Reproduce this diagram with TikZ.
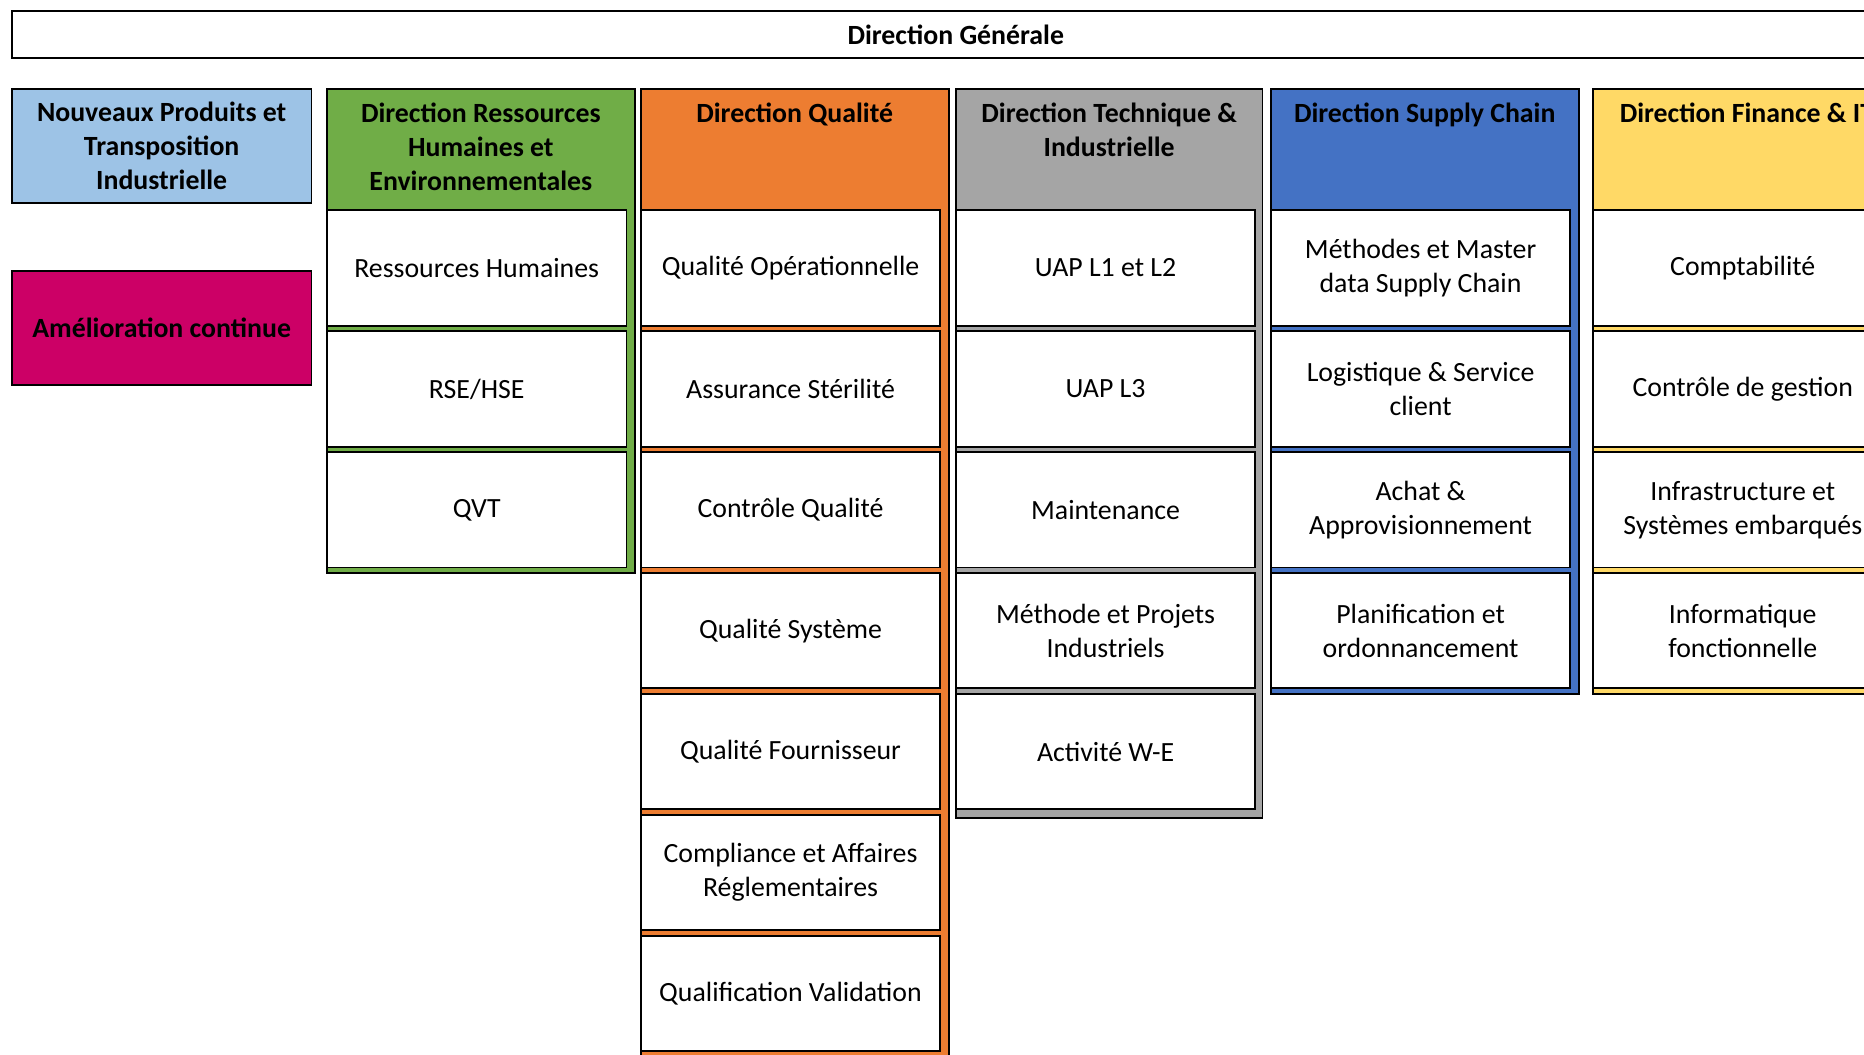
\documentclass[tikz,border=0pt]{standalone}
\usepackage{fontspec}
\setmainfont{Carlito}
\definecolor{cLBlue}{HTML}{9DC3E6}
\definecolor{cMag}{HTML}{CC0066}
\definecolor{cGreen}{HTML}{70AD47}
\definecolor{cOrange}{HTML}{ED7D31}
\definecolor{cGray}{HTML}{A5A5A5}
\definecolor{cBlue}{HTML}{4472C4}
\definecolor{cYellow}{HTML}{FFD966}
\tikzset{
  txt/.style={font=\fontsize{11.7pt}{14.25pt}\selectfont, align=center, inner sep=0pt},
  hdr/.style={txt, font=\fontsize{11.7pt}{14.25pt}\selectfont\bfseries, anchor=north},
  sub/.style={txt, draw=black, fill=white, line width=0.8pt, minimum width=126pt,
              minimum height=48.5pt, anchor=north west, outer sep=0pt},
  colbox/.style={draw=black, line width=0.8pt},
  topbox/.style={txt, font=\fontsize{11.7pt}{14.25pt}\selectfont\bfseries, draw=black, line width=0.8pt,
              minimum height=20pt, minimum width=794pt, anchor=north west, outer sep=0pt},
  sidebox/.style={txt, font=\fontsize{11.7pt}{14.25pt}\selectfont\bfseries, draw=black, line width=0.8pt,
              minimum width=126pt, minimum height=48pt, anchor=north west, outer sep=0pt}
}
\begin{document}
\begin{tikzpicture}[x=0.5pt,y=-0.5pt]
\useasboundingbox (0,0) rectangle (1568,887);
\clip (0,0) rectangle (1568,887);
\fill[white] (0,0) rectangle (1568,887);

% Top box
\node[topbox] (dg) at (10,9) {Direction Générale};

% Left boxes
\node[sidebox, fill=cLBlue] (np) at (10,75) {Nouveaux Produits et\\Transposition\\Industrielle};
\node[sidebox, fill=cMag] (ac) at (10,228) {Amélioration continue};

% Columns
\draw[colbox, fill=cGreen]  (275,75) rectangle (534,482);
\draw[colbox, fill=cOrange] (539,75) rectangle (798,892);
\draw[colbox, fill=cGray]   (804,75) rectangle (1062,688);
\draw[colbox, fill=cBlue]   (1069,75) rectangle (1328,584);
\draw[colbox, fill=cYellow] (1340,75) rectangle (1599,584);

% Headers
\node[hdr] (hg) at (404.5,86.5) {Direction Ressources\\Humaines et\\Environnementales};
\node[hdr] (ho) at (668.5,86.5) {Direction Qualité};
\node[hdr] (ht) at (933,86.5) {Direction Technique \&\\Industrielle};
\node[hdr] (hb) at (1198.5,86.5) {Direction Supply Chain};
\node[hdr] (hy) at (1469.5,86.5) {Direction Finance \& IT};

% Green
\node[sub] (g1) at (275,177)   {Ressources Humaines};
\node[sub] (g2) at (275,278.7) {RSE/HSE};
\node[sub] (g3) at (275,380.4) {QVT};

% Orange
\node[sub] (o1) at (539,177)   {Qualité Opérationnelle};
\node[sub] (o2) at (539,278.7) {Assurance Stérilité};
\node[sub] (o3) at (539,380.4) {Contrôle Qualité};
\node[sub] (o4) at (539,482.1) {Qualité Système};
\node[sub] (o5) at (539,583.8) {Qualité Fournisseur};
\node[sub] (o6) at (539,685.5) {Compliance et Affaires\\Réglementaires};
\node[sub] (o7) at (539,787.2) {Qualification Validation};

% Gray
\node[sub] (t1) at (804,177)   {UAP L1 et L2};
\node[sub] (t2) at (804,278.7) {UAP L3};
\node[sub] (t3) at (804,380.4) {Maintenance};
\node[sub] (t4) at (804,482.1) {Méthode et Projets\\Industriels};
\node[sub] (t5) at (804,583.8) {Activité W-E};

% Blue
\node[sub] (b1) at (1069,177)   {Méthodes et Master\\data Supply Chain};
\node[sub] (b2) at (1069,278.7) {Logistique \& Service\\client};
\node[sub] (b3) at (1069,380.4) {Achat \&\\Approvisionnement};
\node[sub] (b4) at (1069,482.1) {Planification et\\ordonnancement};

% Yellow
\node[sub] (y1) at (1340,177)   {Comptabilité};
\node[sub] (y2) at (1340,278.7) {Contrôle de gestion};
\node[sub] (y3) at (1340,380.4) {Infrastructure et\\Systèmes embarqués};
\node[sub] (y4) at (1340,482.1) {Informatique\\fonctionnelle};
\end{tikzpicture}
\end{document}
